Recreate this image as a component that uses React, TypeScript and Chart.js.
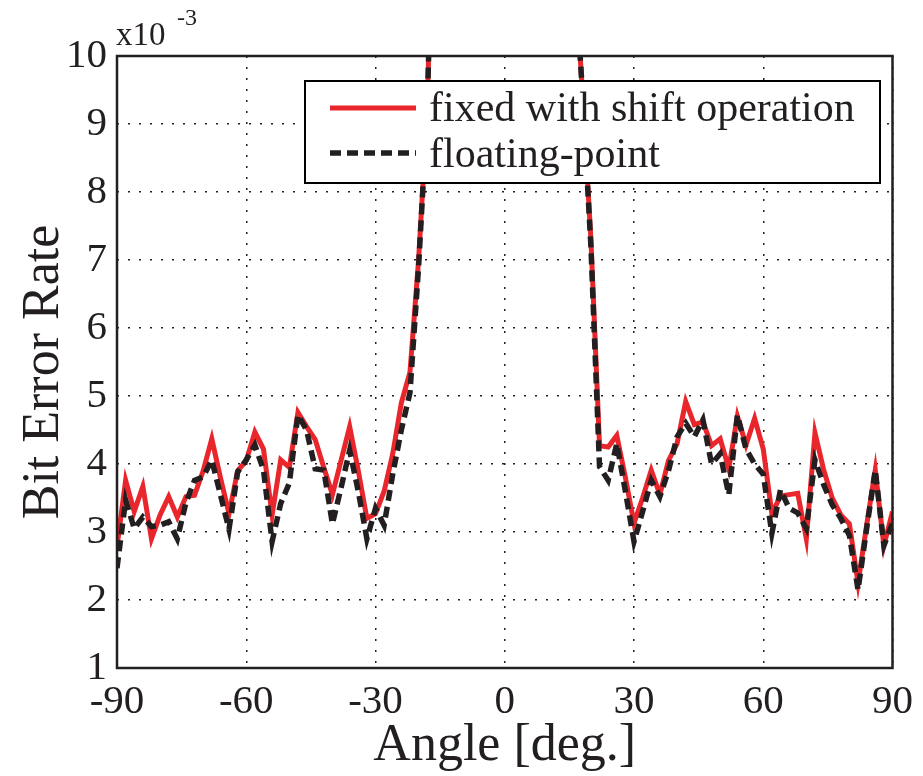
import React, { useEffect, useRef } from "react";
import { Chart, registerables } from "chart.js";

Chart.register(...registerables);

const angles = [
  -90, -88, -86, -84, -82, -80, -78, -76, -74, -72,
  -70, -68, -66, -64, -62, -60, -58, -56, -54, -52,
  -50, -48, -46, -44, -42, -40, -38, -36, -34, -32,
  -30, -28, -26, -24, -22, -20, -18, -16, -14, -12,
  -10, -8, -6, -4, -2, 0, 2, 4, 6, 8,
  10, 12, 14, 16, 18, 20, 22, 24, 26, 28,
  30, 32, 34, 36, 38, 40, 42, 44, 46, 48,
  50, 52, 54, 56, 58, 60, 62, 64, 66, 68,
  70, 72, 74, 76, 78, 80, 82, 84, 86, 88,
  90,
];

// Bit error rate in units of 1e-3
const fixedShift = [
  2.78, 3.76, 3.30, 3.67, 2.90, 3.25, 3.52, 3.22, 3.52, 3.54,
  3.90, 4.37, 3.80, 3.27, 3.90, 4.05, 4.47, 4.22, 3.25, 4.06,
  3.95, 4.76, 4.55, 4.36, 3.95, 3.55, 4.05, 4.55, 3.90, 3.20,
  3.27, 3.60, 4.15, 4.90, 5.35, 7.00, 9.20, 14.0, 28.0, 55.0,
  90.0, 140.0, 190.0, 230.0, 250.0, 260.0, 250.0, 230.0, 190.0, 140.0,
  90.0, 50.0, 25.0, 11.5, 9.50, 7.30, 4.27, 4.25, 4.42, 3.80,
  3.13, 3.50, 3.91, 3.55, 4.05, 4.30, 4.92, 4.58, 4.62, 4.27,
  4.37, 3.93, 4.70, 4.28, 4.67, 4.22, 3.27, 3.53, 3.55, 3.57,
  2.90, 4.46, 3.92, 3.50, 3.25, 3.12, 2.25, 3.10, 3.91, 2.80,
  3.30,
];

const floatingPoint = [
  2.47, 3.47, 3.05, 3.22, 3.08, 3.10, 3.15, 2.90, 3.43, 3.76,
  3.81, 4.06, 3.55, 3.04, 3.88, 4.06, 4.28, 3.91, 2.86, 3.42,
  3.72, 4.72, 4.50, 3.93, 3.91, 3.12, 3.65, 4.20, 3.60, 2.90,
  3.35, 3.10, 3.85, 4.50, 5.05, 6.90, 9.20, 14.0, 28.0, 55.0,
  90.0, 140.0, 190.0, 230.0, 250.0, 260.0, 250.0, 230.0, 190.0, 140.0,
  90.0, 50.0, 25.0, 11.5, 9.50, 7.20, 3.96, 3.76, 4.30, 3.60,
  2.86, 3.30, 3.76, 3.52, 3.90, 4.40, 4.60, 4.40, 4.65, 4.00,
  4.15, 3.55, 4.72, 4.22, 4.00, 3.85, 2.98, 3.62, 3.35, 3.28,
  3.05, 4.06, 3.70, 3.40, 3.20, 2.95, 2.15, 3.05, 3.91, 2.80,
  3.13,
];

const xTicks = [-90, -60, -30, 0, 30, 60, 90];
const yTicks = [1, 2, 3, 4, 5, 6, 7, 8, 9, 10];
const seriesNames = ["fixed with shift operation", "floating-point"];
const xTitle = "Angle [deg.]";
const yTitle = "Bit Error Rate";
const expBase = "x10";
const expPower = "-3";

const FONT = '"Liberation Serif", "Times New Roman", serif';
const RED = "#e8262b";
const BLACK = "#231f20";
const DASH = [11, 6];

const overlayPlugin = {
  id: "overlay",
  afterDatasetsDraw(chart: any) {
    const ctx = chart.ctx as CanvasRenderingContext2D;
    ctx.save();
    const lx = 305, ly = 81, lw = 575, lh = 102;
    ctx.fillStyle = "#ffffff";
    ctx.fillRect(lx, ly, lw, lh);
    ctx.strokeStyle = "#000000";
    ctx.lineWidth = 2;
    ctx.strokeRect(lx, ly, lw, lh);
    ctx.lineWidth = 5;
    ctx.strokeStyle = RED;
    ctx.setLineDash([]);
    ctx.beginPath();
    ctx.moveTo(330, 108);
    ctx.lineTo(416, 108);
    ctx.stroke();
    ctx.lineWidth = 5.5;
    ctx.strokeStyle = BLACK;
    ctx.setLineDash(DASH);
    ctx.beginPath();
    ctx.moveTo(330, 153);
    ctx.lineTo(416, 153);
    ctx.stroke();
    ctx.setLineDash([]);
    ctx.fillStyle = "#231f20";
    ctx.font = `42px ${FONT}`;
    ctx.textAlign = "left";
    ctx.textBaseline = "alphabetic";
    ctx.fillText(seriesNames[0], 429, 121);
    ctx.fillText(seriesNames[1], 429, 167);
    ctx.restore();
  },
  afterDraw(chart: any) {
    const ctx = chart.ctx as CanvasRenderingContext2D;
    const { left, right, top, bottom } = chart.chartArea;
    ctx.save();
    ctx.strokeStyle = "#231f20";
    ctx.lineWidth = 2.5;
    ctx.setLineDash([]);
    ctx.strokeRect(left, top, right - left, bottom - top);
    ctx.fillStyle = "#231f20";
    ctx.save();
    ctx.translate(44, (top + bottom) / 2 + 10);
    ctx.rotate(-Math.PI / 2);
    ctx.font = `52px ${FONT}`;
    ctx.textAlign = "center";
    ctx.textBaseline = "middle";
    ctx.fillText(yTitle, 0, 0);
    ctx.restore();
    ctx.font = `52px ${FONT}`;
    ctx.textAlign = "center";
    ctx.textBaseline = "alphabetic";
    ctx.fillText(xTitle, (left + right) / 2, 760);
    ctx.textAlign = "left";
    ctx.font = `33px ${FONT}`;
    ctx.fillText(expBase, 116, 45);
    ctx.font = `24px ${FONT}`;
    ctx.fillText(expPower, 177, 25);
    ctx.restore();
  },
};

export default function App() {
  const ref = useRef<HTMLCanvasElement | null>(null);
  useEffect(() => {
    document.body.style.margin = "0";
    let chart: Chart | null = null;
    let cancelled = false;
    const build = () => {
      if (cancelled || !ref.current) return;
      chart = new Chart(ref.current, {
        type: "line",
        data: {
          datasets: [
            {
              label: seriesNames[0],
              data: angles.map((a, i) => ({ x: a, y: fixedShift[i] })),
              borderColor: RED,
              borderWidth: 5,
              pointRadius: 0,
              tension: 0,
              fill: false,
              clip: 0,
              order: 2,
            },
            {
              label: seriesNames[1],
              data: angles.map((a, i) => ({ x: a, y: floatingPoint[i] })),
              borderColor: BLACK,
              borderWidth: 5.5,
              borderDash: DASH,
              pointRadius: 0,
              tension: 0,
              fill: false,
              clip: 0,
              order: 1,
            },
          ],
        },
        options: {
          responsive: false,
          animation: false,
          events: [],
          layout: { padding: { top: 56, right: 28, left: 0, bottom: 0 } },
          plugins: { legend: { display: false }, tooltip: { enabled: false } },
          scales: {
            x: {
              type: "linear",
              min: -90,
              max: 90,
              afterBuildTicks: (s: any) => {
                s.ticks = xTicks.map((v) => ({ value: v }));
              },
              afterFit: (s: any) => {
                s.height = 108;
              },
              ticks: {
                color: "#231f20",
                font: { family: FONT, size: 41 },
                padding: 10,
                maxRotation: 0,
                autoSkip: false,
              },
              grid: { color: "#231f20", lineWidth: 1.5, drawTicks: false },
              border: { display: false, dash: [2, 9] },
            },
            y: {
              type: "linear",
              min: 1,
              max: 10,
              afterBuildTicks: (s: any) => {
                s.ticks = yTicks.map((v) => ({ value: v }));
              },
              afterFit: (s: any) => {
                s.width = 117;
              },
              ticks: {
                color: "#231f20",
                font: { family: FONT, size: 41 },
                padding: 10,
                autoSkip: false,
              },
              grid: { color: "#231f20", lineWidth: 1.5, drawTicks: false },
              border: { display: false, dash: [2, 9] },
            },
          },
        },
        plugins: [overlayPlugin],
      } as any);
    };
    const fontsReady = (document as any).fonts
      ? Promise.all([
          (document as any).fonts.load(`41px ${FONT}`),
          (document as any).fonts.load(`52px ${FONT}`),
        ]).catch(() => null)
      : Promise.resolve(null);
    fontsReady.then(build);
    return () => {
      cancelled = true;
      if (chart) chart.destroy();
    };
  }, []);
  return (
    <div style={{ width: 923, height: 776, background: "#fff" }}>
      <canvas ref={ref} width={923} height={776} style={{ display: "block" }} />
    </div>
  );
}
